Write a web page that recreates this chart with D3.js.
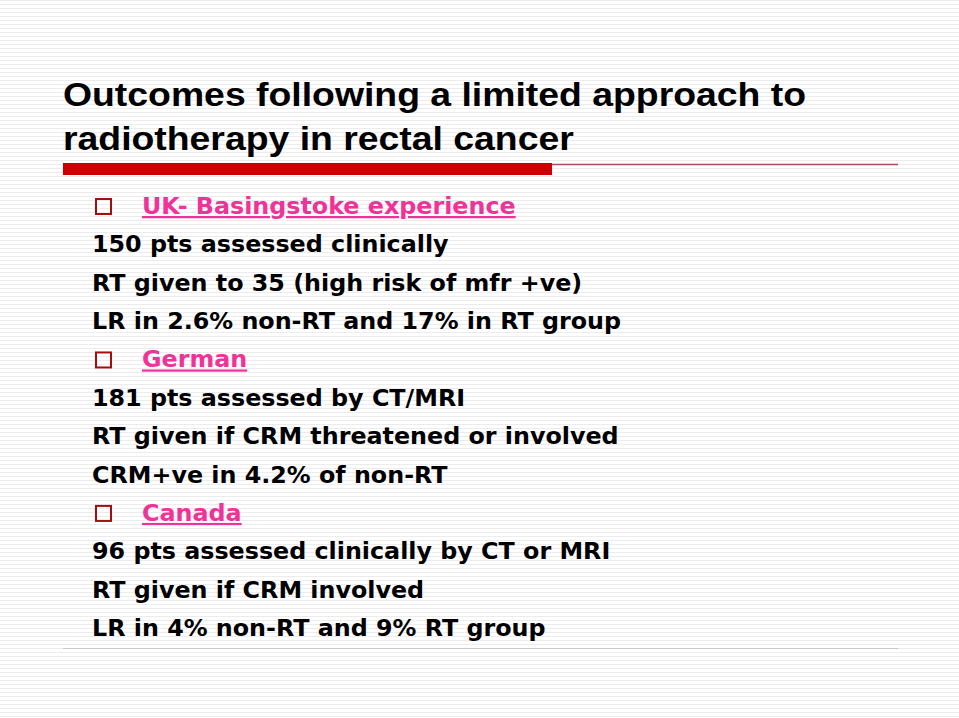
<!DOCTYPE html>
<html><head><meta charset="utf-8">
<script src="https://cdn.jsdelivr.net/npm/d3@7"></script>
<style>body{margin:0;background:#fff}</style>
</head><body>
<svg id="slide" width="959" height="718"></svg>
<script>
// slide content
var titleLines = ["Outcomes following a limited approach to", "radiotherapy in rectal cancer"];
var bodyLines = [
  {text: "UK- Basingstoke experience", head: true},
  {text: "150 pts assessed clinically", head: false},
  {text: "RT given to 35 (high risk of mfr +ve)", head: false},
  {text: "LR in 2.6% non-RT and 17% in RT group", head: false},
  {text: "German", head: true},
  {text: "181 pts assessed by CT/MRI", head: false},
  {text: "RT given if CRM threatened or involved", head: false},
  {text: "CRM+ve in 4.2% of non-RT", head: false},
  {text: "Canada", head: true},
  {text: "96 pts assessed clinically by CT or MRI", head: false},
  {text: "RT given if CRM involved", head: false},
  {text: "LR in 4% non-RT and 9% RT group", head: false}
];

var svg = d3.select("#slide");

// faint horizontal stripes in background
svg.selectAll("line.stripe")
    .data(d3.range(0, 718, 4))
    .enter().append("line")
    .attr("x1", 0).attr("x2", 959)
    .attr("y1", function(d) { return d + 0.5; })
    .attr("y2", function(d) { return d + 0.5; })
    .attr("stroke", "#ececec")
    .attr("stroke-width", 1);

// title
var title = svg.selectAll("text.title")
    .data(titleLines)
    .enter().append("text")
    .attr("x", 63)
    .attr("y", function(d, i) { return 106 + i * 44; })
    .attr("font-family", "Liberation Sans, Arial, sans-serif")
    .attr("font-weight", "bold")
    .attr("font-size", 34)
    .attr("fill", "#000")
    .text(function(d) { return d; });
// stretch title so first line ends near x=806
var tScale = 743 / title.node().getComputedTextLength();
title.attr("textLength", function() { return this.getComputedTextLength() * tScale; })
    .attr("lengthAdjust", "spacingAndGlyphs");

// rule under title
svg.append("rect")
    .attr("x", 63).attr("y", 163)
    .attr("width", 489).attr("height", 12)
    .attr("fill", "#cc0000");
svg.append("line")
    .attr("x1", 552).attr("x2", 898)
    .attr("y1", 164.5).attr("y2", 164.5)
    .attr("stroke", "#a05060").attr("stroke-width", 1.5);

// bottom rule
svg.append("line")
    .attr("x1", 63).attr("x2", 898)
    .attr("y1", 648.5).attr("y2", 648.5)
    .attr("stroke", "#c8c8c8").attr("stroke-width", 1);

var y = d3.scalePoint()
    .domain(d3.range(bodyLines.length))
    .range([214, 636]);

var rows = svg.selectAll("g.row")
    .data(bodyLines)
    .enter().append("g")
    .attr("transform", function(d, i) { return "translate(0," + y(i) + ")"; });

rows.filter(function(d) { return d.head; })
    .append("rect")
    .attr("x", 96).attr("y", -15)
    .attr("width", 15).attr("height", 15)
    .attr("fill", "none")
    .attr("stroke", "#a01010")
    .attr("stroke-width", 2);

var body = rows.append("text")
    .attr("x", function(d) { return d.head ? 142 : 92; })
    .attr("font-family", "DejaVu Sans, Verdana, sans-serif")
    .attr("font-size", 22.5)
    .attr("font-weight", "bold")
    .attr("fill", function(d) { return d.head ? "#ee3399" : "#000"; })
    .attr("text-decoration", function(d) { return d.head ? "underline" : null; })
    .text(function(d) { return d.text; });
// "LR in 2.6% ..." line should end near x=621
var bScale = 529 / body.nodes()[3].getComputedTextLength();
body.attr("textLength", function() { return this.getComputedTextLength() * bScale; })
    .attr("lengthAdjust", "spacingAndGlyphs");
</script>
</body></html>
